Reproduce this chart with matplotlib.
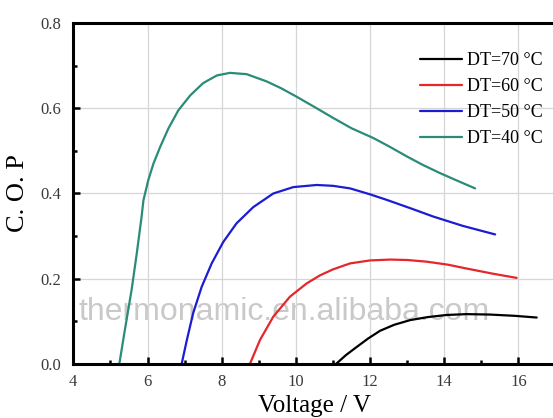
import matplotlib
matplotlib.use("Agg")
import matplotlib.pyplot as plt
from matplotlib.ticker import MultipleLocator, FormatStrFormatter

# values
v_40 = [5.24, 5.39, 5.57, 5.71, 5.84, 5.89, 6.02, 6.16, 6.34, 6.56, 6.83, 7.15, 7.50, 7.87, 8.22,
        8.67, 9.21, 9.6, 10.02, 10.5, 11.01, 11.5, 12.09, 12.5, 12.99, 13.4, 13.88, 14.35, 14.83]
cop_40 = [0.0, 0.08, 0.173, 0.259, 0.345, 0.384, 0.431, 0.470, 0.509, 0.552, 0.595, 0.630, 0.659,
          0.677, 0.683, 0.680, 0.663, 0.647, 0.627, 0.603, 0.577, 0.553, 0.530, 0.511, 0.487,
          0.468, 0.448, 0.430, 0.412]

v_50 = [6.92, 7.06, 7.23, 7.46, 7.73, 8.04, 8.40, 8.85, 9.39, 9.93, 10.56, 11.0, 11.46, 12.0,
        12.45, 13.1, 13.70, 14.5, 15.37]
cop_50 = [0.0, 0.056, 0.119, 0.181, 0.236, 0.286, 0.330, 0.368, 0.400, 0.415, 0.420, 0.418, 0.412,
          0.398, 0.385, 0.365, 0.346, 0.324, 0.304]

v_60 = [8.76, 9.03, 9.39, 9.84, 10.29, 10.65, 11.0, 11.46, 12.0, 12.54, 13.0, 13.53, 14.1, 14.60,
        15.3, 15.95]
cop_60 = [0.0, 0.056, 0.111, 0.158, 0.189, 0.208, 0.222, 0.236, 0.243, 0.245, 0.244, 0.240, 0.233,
          0.224, 0.212, 0.202]

v_70 = [11.08, 11.35, 11.64, 11.95, 12.27, 12.65, 13.08, 13.55, 14.06, 14.6, 15.23, 15.9, 16.49]
cop_70 = [0.0, 0.021, 0.040, 0.060, 0.078, 0.092, 0.103, 0.110, 0.115, 0.117, 0.116, 0.113, 0.109]

labels = ["DT=70 °C", "DT=60 °C", "DT=50 °C", "DT=40 °C"]
colors = ["#000000", "#e5262b", "#1c1cd2", "#2a8b78"]

plt.rcParams["font.family"] = ["Liberation Serif", "DejaVu Serif"]

fig = plt.figure(figsize=(5.53, 4.18), dpi=100)
ax = fig.add_axes([73.3 / 553, 54 / 418, 482.3 / 553, 341 / 418])

series = [(v_70, cop_70), (v_60, cop_60), (v_50, cop_50), (v_40, cop_40)]
for (xs, ys), lab, col in zip(series, labels, colors):
    ax.plot(xs, ys, color=col, lw=1.6, label=lab, solid_capstyle="round", solid_joinstyle="round")

ax.set_xlim(4, 17)
ax.set_ylim(0, 0.8)
ax.xaxis.set_major_locator(MultipleLocator(2))
ax.xaxis.set_minor_locator(MultipleLocator(1))
ax.yaxis.set_major_locator(MultipleLocator(0.2))
ax.yaxis.set_minor_locator(MultipleLocator(0.1))
ax.yaxis.set_major_formatter(FormatStrFormatter("%.1f"))

ax.grid(True, which="major", color="#d6d6d6", lw=0.9)
ax.set_axisbelow(True)
for s in ax.spines.values():
    s.set_linewidth(2.2)

ax.tick_params(which="both", direction="in", top=False, right=False, width=1.8, labelsize=12,
               labelcolor="#3a3a3a")
ax.tick_params(which="major", length=5)
ax.tick_params(which="minor", length=3)
ax.tick_params(axis="y", pad=9)
ax.tick_params(axis="x", pad=7)

ax.set_xlabel("Voltage / V", fontsize=18, labelpad=4)
ax.set_ylabel("C. O. P", fontsize=19, labelpad=8)

# watermark
ax.text(4.13, 0.103, "thermonamic.en.alibaba.com", fontsize=23, color="#c9c9c9",
        family="Liberation Sans", ha="left", va="baseline", zorder=0.5)

ax.legend(loc="upper left", bbox_to_anchor=(0.719, 0.915), frameon=False, fontsize=13,
          handlelength=2.3, handletextpad=0.3, labelspacing=0.5, borderpad=0, borderaxespad=0)

fig.savefig("out.png", dpi=100)
